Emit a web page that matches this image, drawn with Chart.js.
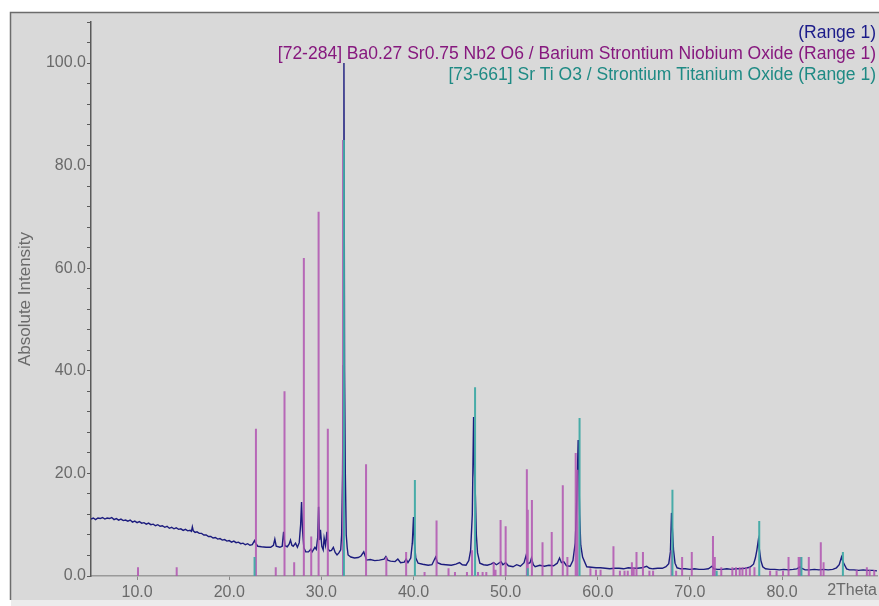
<!DOCTYPE html>
<html>
<head>
<meta charset="utf-8">
<script src="https://cdn.jsdelivr.net/npm/chart.js@4.4.1/dist/chart.umd.min.js"></script>
<style>
html, body { margin: 0; padding: 0; background: #fff; }
#wrap { width: 879px; height: 606px; }
</style>
</head>
<body>
<div id="wrap"><canvas id="xrdChart" width="879" height="606"></canvas></div>
<script>
// measured pattern (2Theta, counts in %)
const traceX = [5.0, 5.25, 5.5, 5.75, 6.0, 6.25, 6.5, 6.75, 7.0, 7.25, 7.5, 7.75, 8.0, 8.25, 8.5, 8.75, 9.0, 9.25, 9.5, 9.75,
  10.0, 10.25, 10.5, 10.75, 11.0, 11.25, 11.5, 11.75, 12.0, 12.25, 12.5, 12.75, 13.0, 13.25, 13.5, 13.75, 14.0, 14.25, 14.5, 14.75,
  15.0, 15.25, 15.5, 15.75, 15.9, 16.0, 16.1, 16.3, 16.5, 16.75, 17.0, 17.25, 17.5, 17.75, 18.0, 18.25, 18.5, 18.75, 19.0, 19.25,
  19.5, 19.75, 20.0, 20.25, 20.5, 20.75, 21.0, 21.25, 21.5, 21.75, 22.0, 22.25, 22.5, 22.75, 22.9,
  23.1, 23.5, 24.0, 24.5, 24.8, 24.95, 25.1, 25.5, 25.75, 25.9, 26.05, 26.3, 26.5, 26.65, 26.8, 26.95, 27.2, 27.4, 27.6, 27.75,
  27.85, 27.95, 28.1, 28.3, 28.6, 28.85, 29.0, 29.3, 29.45, 29.6, 29.7, 29.8, 29.9, 30.05, 30.2, 30.3, 30.45, 30.6, 30.75, 30.9,
  31.1, 31.3, 31.5, 31.7, 31.9, 32.1, 32.2, 32.3, 32.38, 32.45, 32.52, 32.6, 32.7, 32.8, 32.9, 33.2, 33.6, 34.0, 34.3, 34.6,
  34.9, 35.3, 35.8, 36.3, 36.8, 37.0, 37.2, 37.5, 38.0, 38.3, 38.6, 39.0, 39.2, 39.4, 39.7, 39.87, 40.0, 40.1, 40.25, 40.5,
  41.0, 41.6, 42.0, 42.4, 42.6, 43.0, 43.5, 44.1, 44.6, 45.0, 45.3, 45.7, 46.0, 46.2, 46.38, 46.52, 46.62, 46.72, 46.82, 46.95,
  47.2, 47.6, 48.0, 48.4, 48.7, 49.0, 49.5, 49.7, 50.0, 50.3, 50.8, 51.2, 51.6, 52.0, 52.2, 52.4, 52.65, 52.8, 53.0, 53.2,
  53.7, 54.2, 54.7, 55.2, 55.6, 55.85, 56.05, 56.3, 56.6, 57.0, 57.3, 57.55, 57.72, 57.87, 57.95, 58.03, 58.15, 58.35, 58.8, 59.3,
  59.8, 60.3, 60.8, 61.3, 61.8, 62.3, 62.8, 63.3, 63.8, 64.3, 64.8, 65.3, 65.6, 66.0, 66.5, 67.0, 67.4, 67.7, 67.88, 68.0,
  68.1, 68.22, 68.38, 68.6, 69.0, 69.5, 70.0, 70.5, 71.0, 71.5, 72.0, 72.4, 72.6, 73.0, 73.5, 74.0, 74.5, 75.0, 75.5, 76.0,
  76.5, 76.9, 77.1, 77.27, 77.42, 77.55, 77.7, 77.9, 78.2, 78.7, 79.2, 79.7, 80.2, 80.7, 81.2, 81.6, 81.95, 82.15, 82.5, 83.0,
  83.5, 84.0, 84.5, 85.0, 85.5, 85.9, 86.2, 86.45, 86.6, 86.8, 87.0, 87.3, 87.8, 88.3, 88.8, 89.3, 89.8, 90.3];
const traceY = [11.1, 11.3, 11.0, 11.3, 11.2, 11.4, 11.1, 11.3, 11.2, 11.4, 11.0, 11.2, 10.9, 11.1, 10.8, 10.9, 10.7, 10.9, 10.5, 10.7,
  10.4, 10.6, 10.3, 10.4, 10.1, 10.3, 10.0, 10.1, 9.8, 10.0, 9.7, 9.8, 9.5, 9.7, 9.3, 9.5, 9.2, 9.4, 9.1, 9.2,
  8.9, 9.1, 8.8, 8.9, 8.7, 9.6, 8.8, 8.5, 8.6, 8.3, 8.3, 8.0, 8.0, 7.7, 7.7, 7.4, 7.5, 7.2, 7.3, 7.0,
  7.1, 6.8, 6.9, 6.6, 6.8, 6.5, 6.6, 6.3, 6.4, 6.1, 6.3, 6.0, 6.1, 6.9, 6.3,
  5.8, 5.7, 5.6, 5.6, 6.0, 7.2, 5.8, 5.6, 5.8, 8.6, 5.9, 5.7, 6.2, 7.0, 6.0, 5.8, 6.4, 5.6, 6.5, 10.0,
  14.4, 9.0, 5.5, 4.7, 4.7, 5.2, 4.7, 5.6, 5.2, 7.5, 13.5, 7.0, 9.0, 5.8, 5.1, 7.4, 6.0, 8.6, 5.2, 4.9,
  5.0, 5.6, 4.6, 4.1, 4.5, 5.1, 8.0, 20.0, 41.0, 100.0, 40.0, 20.0, 8.0, 5.6, 4.1, 3.7, 3.5, 3.6, 3.9, 4.7,
  3.1, 3.2, 3.0, 3.1, 3.3, 3.8, 3.1, 2.9, 2.8, 3.3, 2.6, 2.7, 3.3, 2.6, 3.5, 6.4, 11.5, 6.4, 3.5, 2.5,
  2.3, 2.1, 2.2, 3.7, 2.6, 2.3, 2.2, 2.1, 2.3, 2.6, 2.2, 2.1, 3.0, 5.0, 12.0, 31.0, 20.0, 15.4, 8.0, 4.5,
  2.5, 2.2, 2.1, 2.3, 2.6, 2.2, 2.8, 2.2, 2.6, 2.0, 1.8, 2.2, 1.9, 2.6, 3.9, 2.4, 2.6, 3.5, 2.2, 1.8,
  2.1, 1.9, 2.1, 2.0, 2.5, 3.5, 2.6, 2.8, 2.0, 1.9, 3.0, 6.4, 15.0, 26.5, 20.0, 12.0, 6.0, 3.7, 1.8, 1.7,
  1.6, 1.6, 1.5, 1.4, 1.5, 1.5, 1.4, 1.6, 1.5, 1.5, 1.6, 1.9, 1.5, 1.4, 1.5, 1.5, 1.8, 2.4, 4.7, 12.3,
  9.0, 5.0, 2.5, 1.6, 1.4, 1.4, 1.3, 1.4, 1.3, 1.3, 1.4, 1.9, 1.4, 1.3, 1.3, 1.4, 1.3, 1.4, 1.4, 1.5,
  1.7, 2.3, 3.5, 5.1, 7.0, 5.0, 3.0, 1.8, 1.4, 1.3, 1.3, 1.2, 1.3, 1.2, 1.3, 1.4, 1.8, 1.5, 1.2, 1.2,
  1.3, 1.2, 1.3, 1.2, 1.3, 1.6, 2.2, 3.7, 2.8, 2.1, 1.4, 1.2, 1.2, 1.1, 1.2, 1.1, 1.1, 1.0];

// [72-284] Ba0.27 Sr0.75 Nb2 O6 reference lines
const bsnoPos = [10.1, 14.3, 22.9, 25.05, 26.0, 27.05, 28.1, 28.9, 29.7, 30.7, 32.35, 34.85, 37.05, 39.2, 41.2, 42.5, 43.8, 44.5,
  45.8, 46.35, 47.0, 47.5, 47.9, 48.7, 48.9, 49.45, 50.0, 52.3, 52.4, 52.85, 54.0, 55.0, 56.2, 56.7, 57.6, 57.8, 59.2, 59.8,
  60.3, 61.7, 62.4, 62.9, 63.25, 63.7, 63.9, 64.2, 64.9, 65.6, 66.0, 68.0, 68.5, 69.15, 70.2, 72.5, 72.7, 73.4, 74.6, 75.0,
  75.4, 75.7, 76.1, 76.5, 77.0, 78.7, 79.4, 80.1, 80.7, 81.8, 82.0, 82.9, 84.2, 84.5, 88.1, 89.2, 89.5, 90.0];
const bsnoInt = [1.7, 1.7, 28.7, 1.7, 36.0, 2.7, 62.0, 7.7, 71.0, 28.7, 85.0, 21.8, 3.7, 4.7, 0.8, 10.8, 1.5, 0.8,
  0.8, 5.0, 0.8, 0.8, 0.8, 2.7, 1.2, 10.9, 9.7, 20.8, 12.9, 14.8, 6.6, 8.6, 17.7, 3.7, 24.0, 20.7, 1.5, 1.2,
  1.2, 5.8, 1.0, 1.0, 1.0, 2.7, 1.7, 4.7, 4.7, 1.0, 1.0, 5.0, 1.0, 3.7, 4.7, 7.8, 3.7, 1.7, 1.7, 1.7,
  1.7, 1.7, 1.7, 1.7, 1.7, 1.0, 1.0, 1.0, 3.7, 3.7, 3.7, 3.7, 6.6, 2.7, 1.2, 1.7, 1.2, 1.2];

// [73-661] Sr Ti O3 reference lines
const stoPos = [22.75, 32.45, 40.15, 46.68, 52.4, 58.02, 68.1, 72.9, 77.52, 82.1, 86.6];
const stoInt = [3.7, 85.0, 18.7, 36.8, 1.5, 30.8, 16.8, 1.0, 10.7, 3.7, 4.7];

const xTicks = [10, 20, 30, 40, 50, 60, 70, 80];
const legendLines = [
  ['(Range 1)', '#1c1c8a'],
  ['[72-284] Ba0.27 Sr0.75 Nb2 O6 / Barium Strontium Niobium Oxide (Range 1)', '#86187e'],
  ['[73-661] Sr Ti O3 / Strontium Titanium Oxide (Range 1)', '#1e8a84']
];

const fontFamily = '"Liberation Sans", Arial, sans-serif';

function sticks(pos, inten) {
  let pts = [];
  for (let i = 0; i < pos.length; i++) {
    pts.push({x: pos[i], y: 0}, {x: pos[i], y: inten[i]}, {x: pos[i], y: null});
  }
  return pts;
}

const framePlugin = {
  id: 'frame',
  beforeDraw(chart) {
    const c = chart.ctx;
    c.save();
    c.fillStyle = '#ffffff';
    c.fillRect(0, 0, chart.width, chart.height);
    c.fillStyle = '#d9d9d9';
    c.fillRect(10, 12, chart.width - 10, 588);
    c.strokeStyle = '#6c6c6c';
    c.lineWidth = 1.5;
    c.beginPath();
    c.moveTo(10.5, 600);
    c.lineTo(10.5, 12.5);
    c.lineTo(chart.width, 12.5);
    c.stroke();
    c.fillStyle = '#ececec';
    c.fillRect(11, 600, chart.width - 11, 6);
    c.restore();
  },
  afterDraw(chart) {
    const c = chart.ctx;
    c.save();
    c.font = '17.5px ' + fontFamily;
    c.textAlign = 'right';
    c.textBaseline = 'middle';
    legendLines.forEach((l, i) => {
      c.fillStyle = l[1];
      c.fillText(l[0], 876, 33 + i * 21);
    });
    c.font = '16px ' + fontFamily;
    c.fillStyle = '#6a6a6a';
    c.fillText('2Theta', 877, 591);
    c.restore();
  }
};

const ctx = document.getElementById('xrdChart').getContext('2d');
const myChart = new Chart(ctx, {
  type: 'line',
  data: {
    datasets: [
      {
        data: sticks(stoPos, stoInt),
        borderColor: 'rgba(64, 170, 165, 0.95)',
        borderWidth: 2,
        pointRadius: 0,
        spanGaps: false
      },
      {
        data: sticks(bsnoPos, bsnoInt),
        borderColor: 'rgba(176, 84, 176, 0.85)',
        borderWidth: 2,
        pointRadius: 0,
        spanGaps: false
      },
      {
        data: traceX.map((x, i) => ({x: x, y: traceY[i]})),
        borderColor: '#1c1c7e',
        borderWidth: 1.4,
        pointRadius: 0,
        tension: 0
      }
    ]
  },
  options: {
    responsive: false,
    animation: false,
    layout: {padding: {top: 22, right: 2, left: 0, bottom: 0}},
    plugins: {
      legend: {display: false},
      tooltip: {enabled: false}
    },
    scales: {
      x: {
        type: 'linear',
        min: 5,
        max: 90.3,
        afterBuildTicks: function (s) { s.ticks = xTicks.map(v => ({value: v})); },
        afterFit: function (s) { s.height = 30; },
        grid: {drawOnChartArea: false, tickLength: 4, color: '#8a8a8a'},
        border: {color: '#9a9a9a', width: 1.5},
        ticks: {
          autoSkip: false,
          maxRotation: 0,
          padding: 3,
          color: '#6a6a6a',
          font: {family: fontFamily, size: 16},
          callback: function (v) { return Number(v).toFixed(1); }
        }
      },
      y: {
        min: 0,
        max: 108,
        afterFit: function (s) { s.width = 91; },
        grid: {drawOnChartArea: false, tickLength: 4, color: '#5a5a5a'},
        border: {color: '#5a5a5a', width: 1.5},
        title: {
          display: true,
          text: 'Absolute Intensity',
          color: '#6a6a6a',
          font: {family: fontFamily, size: 17},
          padding: {top: 15, bottom: 0}
        },
        ticks: {
          stepSize: 4,
          autoSkip: false,
          padding: 1,
          color: '#6a6a6a',
          font: {family: fontFamily, size: 16},
          callback: function (v) { return v % 20 === 0 ? Number(v).toFixed(1) : ''; }
        }
      }
    }
  },
  plugins: [framePlugin]
});
</script>
</body>
</html>
